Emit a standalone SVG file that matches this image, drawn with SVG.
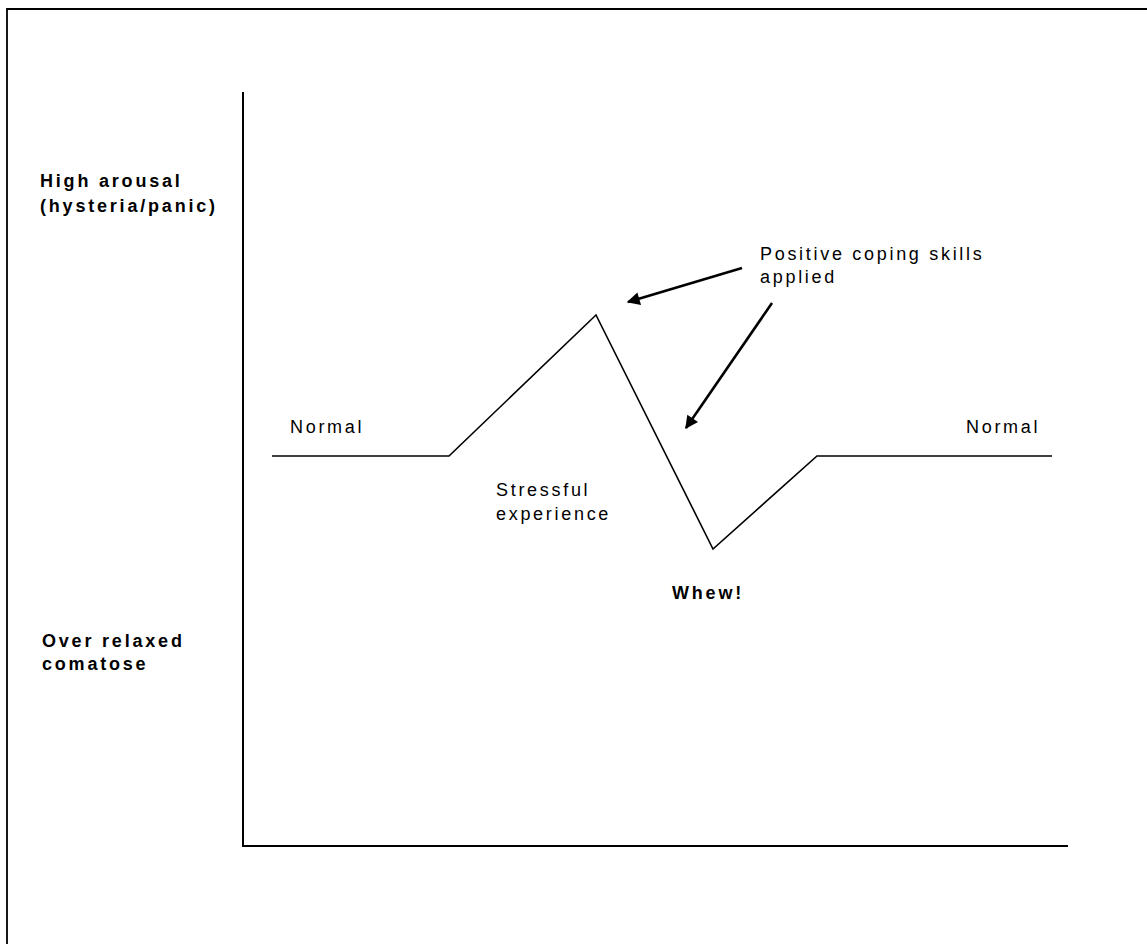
<svg xmlns="http://www.w3.org/2000/svg" width="1147" height="944" viewBox="0 0 1147 944">
<style>
.t{font-family:"Liberation Sans",Arial,sans-serif;font-size:18px;fill:#000;letter-spacing:2.7px}
.b{font-weight:bold;letter-spacing:2.8px}
.ax{stroke:#000;stroke-width:2;fill:none}
.cv{stroke:#000;stroke-width:1.6;fill:none;stroke-linejoin:miter}
.ar{stroke:#000;stroke-width:2.6;fill:none}
</style>
<defs>
<marker id="ah" viewBox="0 0 10 10" refX="9" refY="5" markerWidth="7" markerHeight="5" markerUnits="strokeWidth" orient="auto">
<path d="M0,0 L10,5 L0,10 Z" fill="#000"/>
</marker>
</defs>
<rect width="1147" height="944" fill="#fff"/>
<g id="frame">
<path d="M7,944 V9 H1147" stroke="#000" stroke-width="1.8" fill="none"/>
</g>
<g id="axes">
<path class="ax" d="M243,92 V846 H1068"/>
</g>
<g id="curve">
<polyline class="cv" points="272,456 449,456 596,315 713,549 817,456 1052,456"/>
</g>
<g id="connectors">
<line class="ar" x1="742" y1="268" x2="628" y2="302" marker-end="url(#ah)"/>
<line class="ar" x1="772" y1="303" x2="686" y2="428" marker-end="url(#ah)"/>
</g>
<g id="label-high">
<text class="t b" x="40" y="187">High arousal</text>
<text class="t b" x="40" y="212">(hysteria/panic)</text>
</g>
<g id="label-low">
<text class="t b" x="42" y="647">Over relaxed</text>
<text class="t b" x="42" y="670">comatose</text>
</g>
<g id="label-coping">
<text class="t" x="760" y="260">Positive coping skills</text>
<text class="t" x="760" y="283">applied</text>
</g>
<g id="label-normal-left">
<text class="t" x="290" y="433">Normal</text>
</g>
<g id="label-normal-right">
<text class="t" x="966" y="433">Normal</text>
</g>
<g id="label-stress">
<text class="t" x="496" y="496">Stressful</text>
<text class="t" x="496" y="520">experience</text>
</g>
<g id="label-whew">
<text class="t b" x="672" y="599">Whew!</text>
</g>
</svg>
